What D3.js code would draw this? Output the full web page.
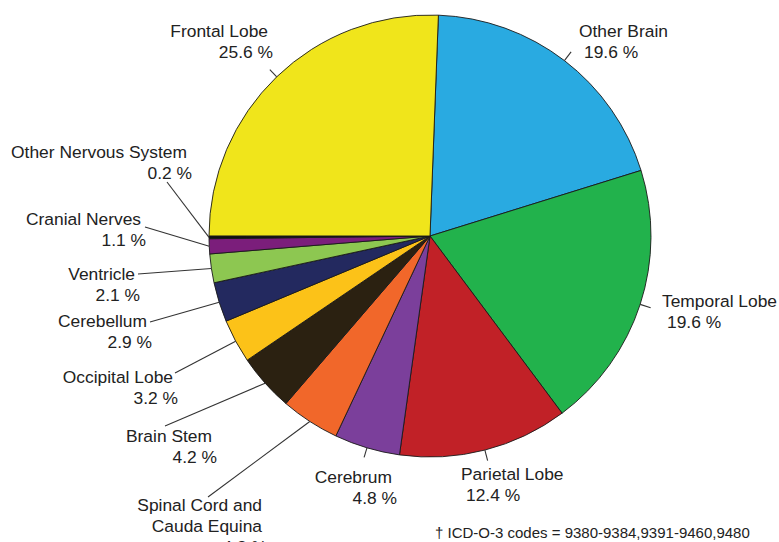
<!DOCTYPE html>
<html>

<head>
    <meta charset="UTF-8">
    <title>Brain and CNS tumours by site</title>
    <style>
        body { margin: 0; background: #fff; }
        svg text { font-family: "Liberation Sans", Arial, Helvetica, sans-serif; fill: #222; }
    </style>
</head>

<body>
    <script src="https://d3js.org/d3.v7.min.js"></script>

    <svg width="779" height="542"></svg>

    <script>
        let svg = d3.select("svg"),
            width = +svg.attr("width"),
            height = +svg.attr("height");

        // sites, clockwise from 12 o'clock
        let sites = [
            ["Other Brain"],
            ["Temporal Lobe"],
            ["Parietal Lobe"],
            ["Cerebrum"],
            ["Spinal Cord and", "Cauda Equina"],
            ["Brain Stem"],
            ["Occipital Lobe"],
            ["Cerebellum"],
            ["Ventricle"],
            ["Cranial Nerves"],
            ["Other Nervous System"],
            ["Frontal Lobe"]
        ];
        let percents = [19.6, 19.6, 12.4, 4.8, 4.3, 4.2, 3.2, 2.9, 2.1, 1.1, 0.2, 25.6];
        let colors = [
            "#29aae1", "#22b24c", "#c12127", "#7b3f9b", "#f1672a", "#2b2111",
            "#fcc218", "#23295f", "#8dc751", "#7b1e7b", "#111111", "#f0e51b"
        ];
        let footnote = "\u2020 ICD-O-3 codes = 9380-9384,9391-9460,9480";

        // label placement (hand tuned, like the original figure)
        // tick: short radial tick; end: leader line end point
        let label_layout = [
            { tick: 11, x: 579, y: 37, anchor: "start" },
            { tick: 11, x: 662, y: 307, anchor: "start" },
            { tick: 11, x: 461, y: 480, anchor: "start" },
            { tick: 10, x: 392, y: 483, anchor: "end" },
            { end: [208, 497], x: 262, y: 511, anchor: "end" },
            { end: [165, 426], x: 212, y: 442, anchor: "end" },
            { end: [175, 373], x: 173, y: 383, anchor: "end" },
            { end: [150, 322], x: 147, y: 327, anchor: "end" },
            { end: [138, 274], x: 135, y: 280, anchor: "end" },
            { end: [145, 227], x: 141, y: 225, anchor: "end" },
            { end: [167, 182], x: 187, y: 158, anchor: "end" },
            { tick: 10, x: 268, y: 37, anchor: "end" }
        ];

        let cx = 430, cy = 236, radius = 221;
        let offset = 0.038; // pie is turned slightly clockwise
        let line_h = 21;

        let pie = d3.pie().sort(null)
            .startAngle(offset)
            .endAngle(offset + 2 * Math.PI);
        let arc = d3.arc().innerRadius(0).outerRadius(radius);

        let arcs = pie(percents);

        let g = svg.append("g").attr("transform", `translate(${cx},${cy})`);

        g.selectAll("path.slice")
            .data(arcs)
            .enter().append("path")
            .attr("class", "slice")
            .attr("d", arc)
            .attr("fill", (d, i) => colors[i])
            .attr("stroke", "#1a1a1a")
            .attr("stroke-width", 0.9)
            .attr("stroke-linejoin", "round");

        // point on circle of radius r at the middle of a slice
        function edge_point(d, r) {
            let a = (d.startAngle + d.endAngle) / 2;
            return [cx + r * Math.sin(a), cy - r * Math.cos(a)];
        }

        // leader lines / ticks
        svg.append("g").selectAll("line")
            .data(arcs)
            .enter().append("line")
            .each(function (d, i) {
                let lay = label_layout[i];
                let p0 = edge_point(d, radius);
                let p1 = lay.end ? lay.end : edge_point(d, radius + lay.tick);
                d3.select(this)
                    .attr("x1", p0[0]).attr("y1", p0[1])
                    .attr("x2", p1[0]).attr("y2", p1[1]);
            })
            .attr("stroke", "#333")
            .attr("stroke-width", 1.1);

        // labels
        let labels = svg.append("g").selectAll("text")
            .data(arcs)
            .enter().append("text")
            .attr("font-size", 17.4)
            .attr("text-anchor", (d, i) => label_layout[i].anchor)
            .attr("x", (d, i) => label_layout[i].x)
            .attr("y", (d, i) => label_layout[i].y);

        labels.each(function (d, i) {
            let t = d3.select(this);
            let x = label_layout[i].x;
            sites[i].forEach((ln, j) => {
                t.append("tspan").attr("x", x).attr("dy", j === 0 ? 0 : line_h).text(ln);
            });
            t.append("tspan").attr("x", x + 5).attr("dy", line_h)
                .text(d3.format(".1f")(percents[i]) + " %");
        });

        svg.append("text")
            .attr("x", 435)
            .attr("y", 538)
            .attr("font-size", 15)
            .text(footnote);
    </script>
</body>

</html>
